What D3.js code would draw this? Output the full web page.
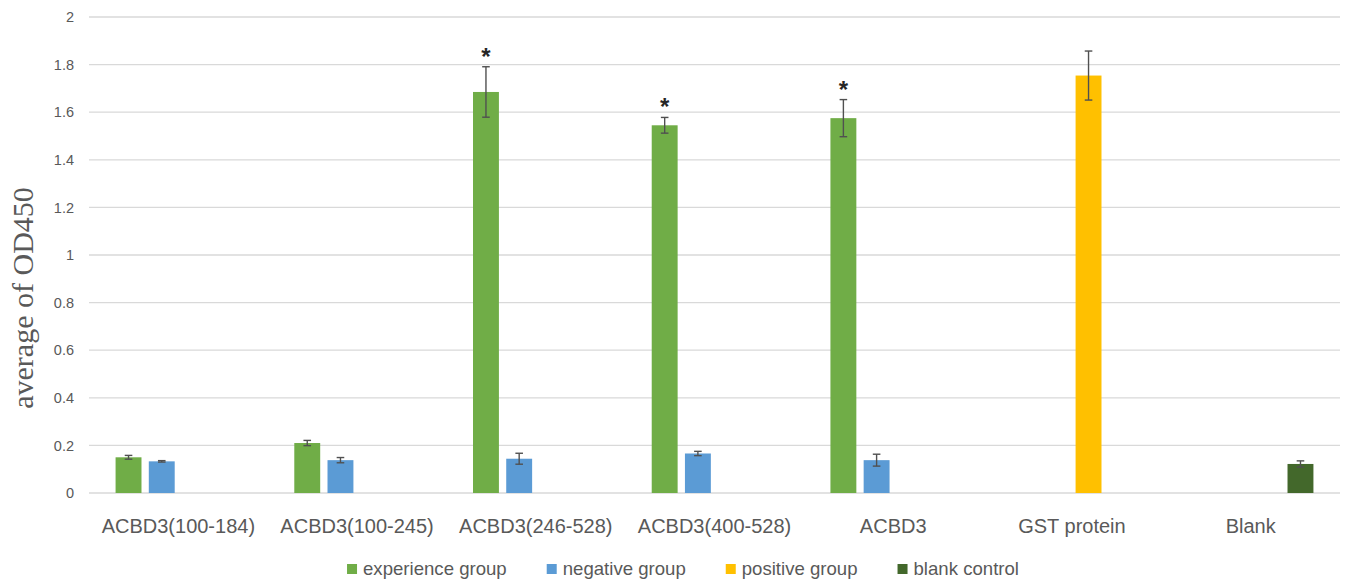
<!DOCTYPE html>
<html>
<head>
<meta charset="utf-8">
<script src="https://cdn.jsdelivr.net/npm/d3@7"></script>
<style>
  html, body { margin: 0; padding: 0; background: #fff; }
  svg { display: block; }
</style>
</head>
<body>
<svg id="chart" width="1345" height="580"></svg>
<script>
const categories = ["ACBD3(100-184)", "ACBD3(100-245)", "ACBD3(246-528)", "ACBD3(400-528)", "ACBD3", "GST protein", "Blank"];
const seriesNames = ["experience group", "negative group", "positive group", "blank control"];
const seriesColors = ["#70AD47", "#5B9BD5", "#FFC000", "#43682B"];

const experienceValues = [0.150, 0.210, 1.685, 1.545, 1.575, null, null];
const experienceErrors = [0.008, 0.011, 0.106, 0.033, 0.078, null, null];
const negativeValues   = [0.133, 0.138, 0.144, 0.166, 0.138, null, null];
const negativeErrors   = [0.003, 0.011, 0.023, 0.009, 0.025, null, null];
const positiveValues   = [null, null, null, null, null, 1.754, null];
const positiveErrors   = [null, null, null, null, null, 0.103, null];
const blankValues      = [null, null, null, null, null, null, 0.122];
const blankErrors      = [null, null, null, null, null, null, 0.013];
const experienceStars  = ["", "", "*", "*", "*", "", ""];

const yTicks = [0, 0.2, 0.4, 0.6, 0.8, 1, 1.2, 1.4, 1.6, 1.8, 2];
const yTickLabels = ["0", "0.2", "0.4", "0.6", "0.8", "1", "1.2", "1.4", "1.6", "1.8", "2"];
const yTitle = "average of OD450";

const allValues = [experienceValues, negativeValues, positiveValues, blankValues];
const allErrors = [experienceErrors, negativeErrors, positiveErrors, blankErrors];

const svg = d3.select("#chart");
const plotLeft = 89, plotRight = 1340, plotTop = 17, plotBottom = 493;

const x0 = d3.scaleBand().domain(categories).range([plotLeft, plotRight]).padding(0);
const x1 = d3.scaleBand().domain(seriesNames).range([0, x0.bandwidth()])
  .paddingInner(0.22).paddingOuter(0.8);
const y = d3.scaleLinear().domain([0, 2]).range([plotBottom, plotTop]);

// gridlines
svg.append("g").selectAll("line").data(yTicks).join("line")
  .attr("x1", plotLeft).attr("x2", plotRight)
  .attr("y1", d => y(d)).attr("y2", d => y(d))
  .attr("stroke", "#d9d9d9").attr("stroke-width", 1.3);

// y axis
const yAxis = svg.append("g").attr("transform", `translate(${plotLeft},0)`)
  .call(d3.axisLeft(y).tickValues(yTicks).tickSize(0).tickPadding(15)
    .tickFormat((d, i) => yTickLabels[i]));
yAxis.select(".domain").remove();
yAxis.selectAll("text").attr("font-family", "Liberation Sans, Arial, sans-serif")
  .attr("font-size", 14.5).attr("fill", "#595959");

// x axis
const xAxis = svg.append("g").attr("transform", `translate(0,${plotBottom})`)
  .call(d3.axisBottom(x0).tickSize(0).tickPadding(26));
xAxis.select(".domain").remove();
xAxis.selectAll("text").attr("font-family", "Liberation Sans, Arial, sans-serif")
  .attr("font-size", 20).attr("fill", "#595959");

// y title
svg.append("text")
  .attr("transform", `translate(33,298) rotate(-90)`)
  .attr("text-anchor", "middle")
  .attr("font-family", "Liberation Serif, Times New Roman, serif")
  .attr("font-size", 30).attr("fill", "#595959")
  .text(yTitle);

// bars
const barData = [];
seriesNames.forEach((s, si) => {
  categories.forEach((c, ci) => {
    const v = allValues[si][ci];
    if (v != null) barData.push({ s, si, c, ci, v, e: allErrors[si][ci] });
  });
});

svg.append("g").selectAll("rect").data(barData).join("rect")
  .attr("x", d => x0(d.c) + x1(d.s))
  .attr("width", x1.bandwidth())
  .attr("y", d => y(d.v))
  .attr("height", d => y(0) - y(d.v))
  .attr("fill", d => seriesColors[d.si]);

// error bars
const eg = svg.append("g").attr("stroke", "#505050").attr("stroke-width", 1.4).attr("fill", "none");
barData.filter(d => d.e != null).forEach(d => {
  const cx = x0(d.c) + x1(d.s) + x1.bandwidth() / 2;
  const y1 = y(d.v + d.e), y2 = y(d.v - d.e);
  eg.append("line").attr("x1", cx).attr("x2", cx).attr("y1", y1).attr("y2", y2);
  eg.append("line").attr("x1", cx - 3.8).attr("x2", cx + 3.8).attr("y1", y1).attr("y2", y1);
  eg.append("line").attr("x1", cx - 3.8).attr("x2", cx + 3.8).attr("y1", y2).attr("y2", y2);
});

// significance stars
svg.append("g").selectAll("text").data(categories.map((c, i) => ({ c, i })).filter(d => experienceStars[d.i]))
  .join("text")
  .attr("x", d => x0(d.c) + x1(seriesNames[0]) + x1.bandwidth() / 2)
  .attr("y", d => y(experienceValues[d.i] + experienceErrors[d.i]) - 2)
  .attr("text-anchor", "middle")
  .attr("font-family", "Liberation Sans, Arial, sans-serif")
  .attr("font-size", 24).attr("font-weight", "bold").attr("fill", "#262626")
  .text(d => experienceStars[d.i]);

// legend
const legend = svg.append("g");
const items = legend.selectAll("g").data(seriesNames).join("g");
items.append("rect").attr("width", 10).attr("height", 10).attr("y", 564)
  .attr("fill", (d, i) => seriesColors[i]);
items.append("text").attr("x", 16).attr("y", 575)
  .attr("font-family", "Liberation Sans, Arial, sans-serif")
  .attr("font-size", 18.6).attr("fill", "#595959")
  .text(d => d);
let widths = [];
items.each(function () { widths.push(16 + d3.select(this).select("text").node().getComputedTextLength()); });
const gap = 40;
const total = d3.sum(widths) + gap * (widths.length - 1);
let xpos = 683 - total / 2;
items.each(function (d, i) {
  d3.select(this).attr("transform", `translate(${xpos},0)`);
  xpos += widths[i] + gap;
});
</script>
</body>
</html>
